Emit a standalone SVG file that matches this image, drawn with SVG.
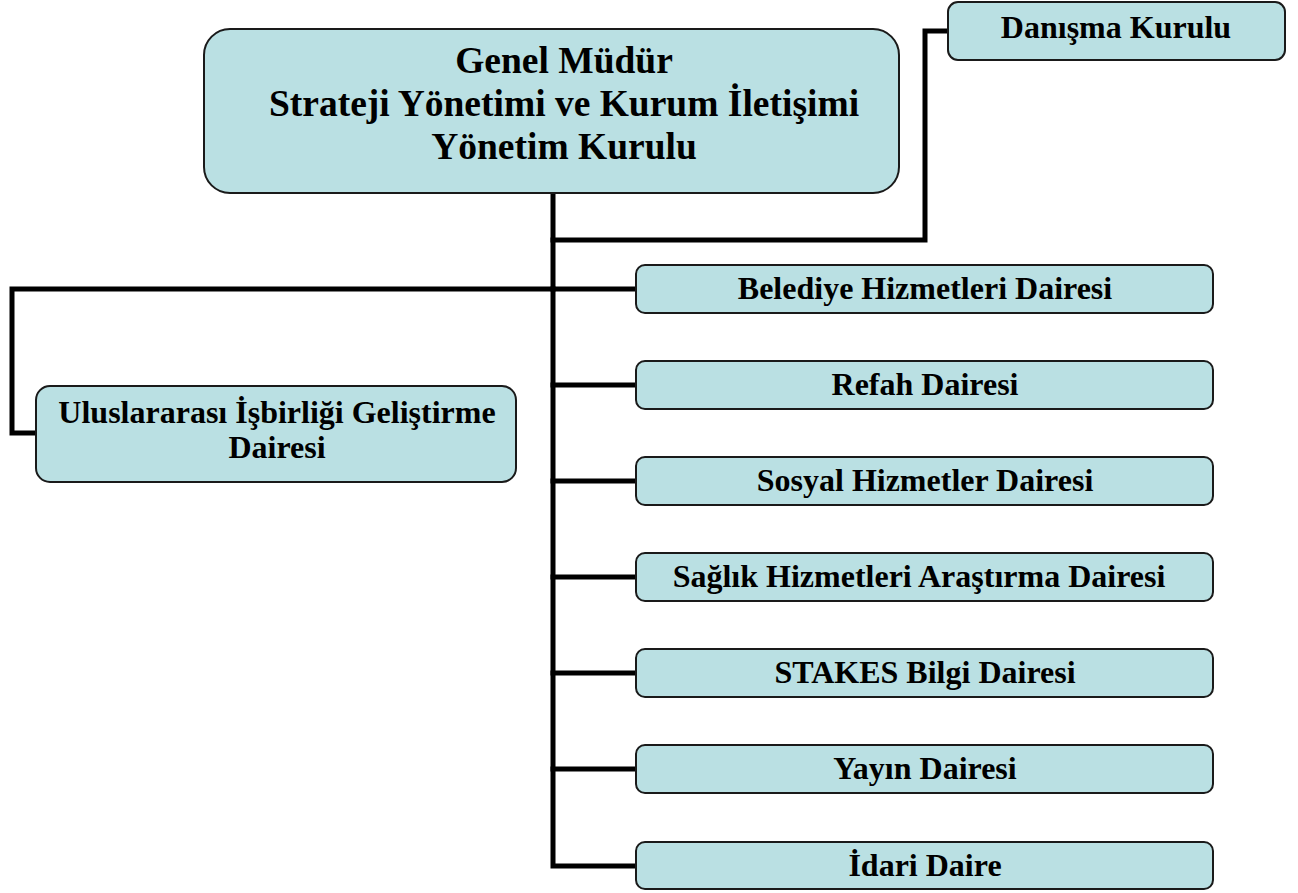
<svg xmlns="http://www.w3.org/2000/svg" width="1298" height="893" viewBox="0 0 1298 893">
<style>
.box{fill:#bae0e3;stroke:#1a1a1a;stroke-width:2}
.t{font-family:"Liberation Serif","Times New Roman",serif;font-weight:bold;fill:#000;text-anchor:middle}
.big{font-size:37.5px}
.sm{font-size:32px}
.c{fill:none;stroke:#000;stroke-width:5;stroke-linejoin:miter;stroke-linecap:square}
</style>
<rect width="1298" height="893" fill="#fff"/>
<g id="connectors">
<polyline class="c" points="553,194 553,866 636,866"/>
<polyline class="c" points="553,240 925,240 925,31 948,31"/>
<polyline class="c" points="553,289 12,289 12,433 37,433"/>
<line class="c" x1="553" y1="289" x2="636" y2="289"/>
<line class="c" x1="553" y1="385" x2="636" y2="385"/>
<line class="c" x1="553" y1="481" x2="636" y2="481"/>
<line class="c" x1="553" y1="577" x2="636" y2="577"/>
<line class="c" x1="553" y1="673" x2="636" y2="673"/>
<line class="c" x1="553" y1="769" x2="636" y2="769"/>
</g>
<g id="genel">
<rect class="box" x="204" y="29" width="695" height="164" rx="26"/>
<text class="t big" x="564" y="73">Genel Müdür</text>
<text class="t big" x="564" y="116">Strateji Yönetimi ve Kurum İletişimi</text>
<text class="t big" x="564" y="159">Yönetim Kurulu</text>
</g>
<g id="danisma">
<rect class="box" x="948" y="2" width="337" height="58" rx="10"/>
<text class="t sm" x="1116" y="38">Danışma Kurulu</text>
</g>
<g id="uluslararasi">
<rect class="box" x="36" y="386" width="480" height="96" rx="14"/>
<text class="t sm" x="277" y="423">Uluslararası İşbirliği Geliştirme</text>
<text class="t sm" x="277" y="458">Dairesi</text>
</g>
<g id="belediye">
<rect class="box" x="636" y="265" width="577" height="48" rx="9"/>
<text class="t sm" x="925" y="299">Belediye Hizmetleri Dairesi</text>
</g>
<g id="refah">
<rect class="box" x="636" y="361" width="577" height="48" rx="9"/>
<text class="t sm" x="925" y="395">Refah Dairesi</text>
</g>
<g id="sosyal">
<rect class="box" x="636" y="457" width="577" height="48" rx="9"/>
<text class="t sm" x="925" y="491">Sosyal Hizmetler Dairesi</text>
</g>
<g id="saglik">
<rect class="box" x="636" y="553" width="577" height="48" rx="9"/>
<text class="t sm" x="919" y="587">Sağlık Hizmetleri Araştırma Dairesi</text>
</g>
<g id="stakes">
<rect class="box" x="636" y="649" width="577" height="48" rx="9"/>
<text class="t sm" x="925" y="683">STAKES Bilgi Dairesi</text>
</g>
<g id="yayin">
<rect class="box" x="636" y="745" width="577" height="48" rx="9"/>
<text class="t sm" x="925" y="779">Yayın Dairesi</text>
</g>
<g id="idari">
<rect class="box" x="636" y="842" width="577" height="47" rx="9"/>
<text class="t sm" x="925" y="876">İdari Daire</text>
</g>
</svg>
